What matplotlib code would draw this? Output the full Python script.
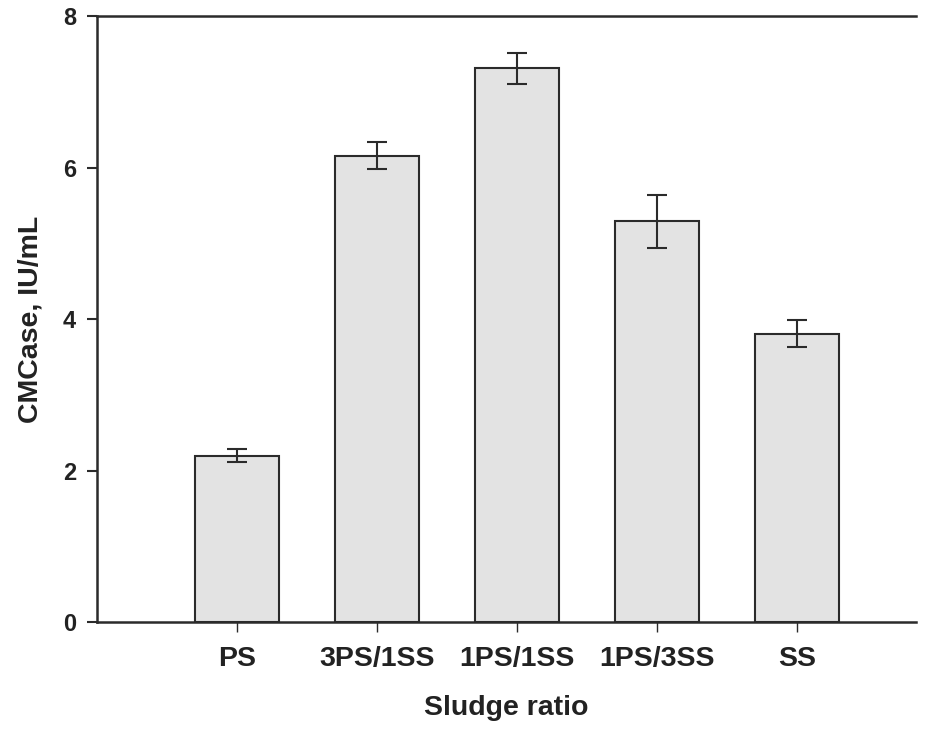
import matplotlib
matplotlib.use("Agg")
import matplotlib.pyplot as plt

# CMCase activity for each sludge mixing ratio
categories = ["PS", "3PS/1SS", "1PS/1SS", "1PS/3SS", "SS"]
cmcase = [2.20, 6.16, 7.31, 5.29, 3.81]
cmcase_err = [0.08, 0.18, 0.20, 0.35, 0.18]
y_ticks = [0, 2, 4, 6, 8]

plt.rcParams["font.family"] = ["Liberation Sans", "DejaVu Sans"]
plt.rcParams["font.weight"] = "bold"

fig = plt.figure(figsize=(9.30, 7.32), dpi=100)
ax = fig.add_axes([0.104, 0.150, 0.881, 0.828])

x = list(range(len(categories)))
ax.bar(x, cmcase, width=0.6, color="#e3e3e3", edgecolor="#2b2b2b",
       linewidth=1.5, zorder=2)
ax.errorbar(x, cmcase, yerr=cmcase_err, fmt="none", ecolor="#2b2b2b",
            elinewidth=1.5, capsize=7, capthick=1.5, zorder=3)

ax.set_xlim(-1.0, 4.85)
ax.set_ylim(0, 8)
ax.set_xticks(x)
ax.set_xticklabels(categories)
ax.set_yticks(y_ticks)

for side in ["left", "bottom", "top"]:
    ax.spines[side].set_linewidth(1.8)
    ax.spines[side].set_color("#2b2b2b")
ax.spines["right"].set_visible(False)

ax.tick_params(axis="y", direction="out", length=7, width=1.5,
               color="#2b2b2b", labelsize=17, pad=8)
ax.tick_params(axis="x", direction="out", length=7, width=1.0,
               color="#2b2b2b", labelsize=20.5, pad=10)
for lbl in ax.get_xticklabels() + ax.get_yticklabels():
    lbl.set_fontweight("bold")
    lbl.set_color("#222222")

ax.set_xlabel("Sludge ratio", fontsize=20.5, fontweight="bold",
              color="#222222", labelpad=17)
ax.set_ylabel("CMCase, IU/mL", fontsize=20.5, fontweight="bold",
              color="#222222", labelpad=14)

fig.savefig("out.png", dpi=100)
